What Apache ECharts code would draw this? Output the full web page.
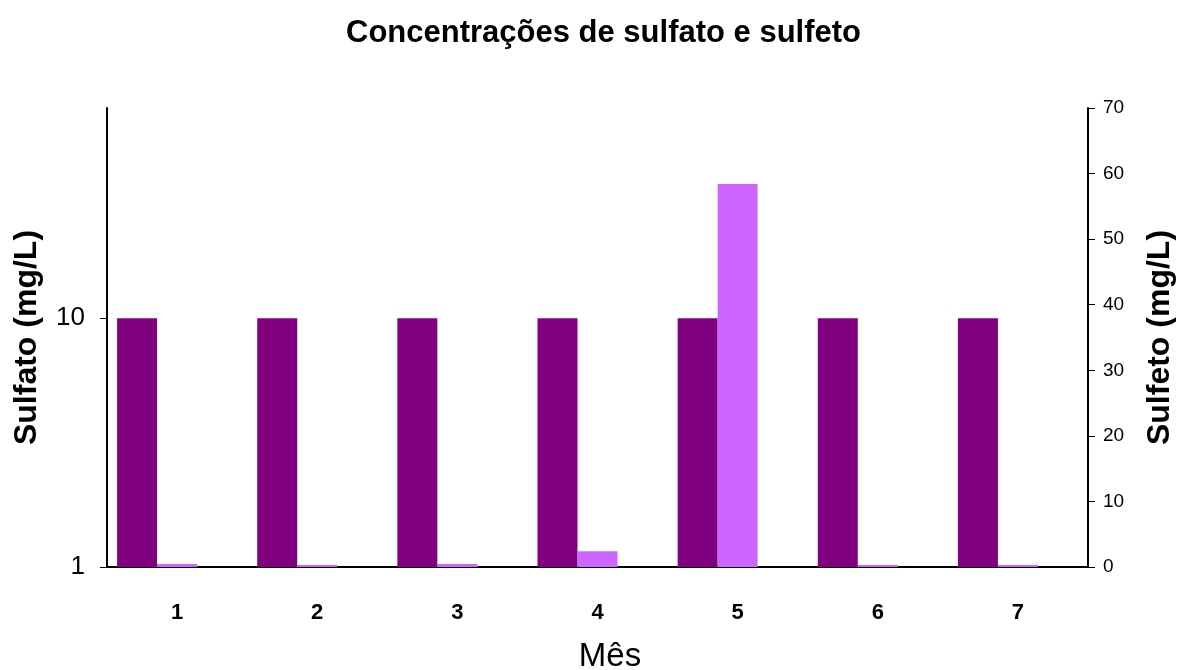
<!DOCTYPE html>
<html><head><meta charset="utf-8">
<script src="https://cdn.jsdelivr.net/npm/echarts@6/dist/echarts.min.js"></script>
<style>html,body{margin:0;padding:0;background:#fff}#c{width:1178px;height:670px}</style>
</head><body><div id="c"></div>
<script>
const months = ['1','2','3','4','5','6','7'];
const sulfato = [10,10,10,10,10,10,10];
const sulfeto = [0.46,0.3,0.46,2.4,58.4,0.3,0.3];
const emptySeries = [null,null,null,null,null,null,null];
const rightTicks = [0,10,20,30,40,50,60,70];
const F = '"Liberation Sans", Arial, sans-serif';
const chart = echarts.init(document.getElementById('c'));
chart.setOption({
  animation:false,
  backgroundColor:'#fff',
  title:{text:'Concentrações de sulfato e sulfeto',left:341,top:13,
    textStyle:{fontFamily:F,fontSize:31,fontWeight:'bold',color:'#000'}},
  grid:{left:107,right:90,top:108,bottom:103,containLabel:false,outerBoundsMode:'none'},
  xAxis:{type:'category',data:months,name:'Mês',nameLocation:'middle',nameGap:73,
    nameTextStyle:{fontFamily:F,fontSize:33,color:'#000',padding:[0,0,0,25]},
    axisLine:{lineStyle:{color:'#000',width:2}},
    axisTick:{lineStyle:{color:'#000'},length:6},
    axisLabel:{fontFamily:F,fontSize:22,fontWeight:'bold',color:'#000',margin:35}},
  yAxis:[
    {type:'log',logBase:10,min:1,max:70,name:'Sulfato (mg/L)',nameLocation:'middle',nameGap:64,
     nameTextStyle:{fontFamily:F,fontSize:32,fontWeight:'bold',color:'#000'},
     axisLine:{show:true,lineStyle:{color:'#000',width:2}},
     axisTick:{show:true,lineStyle:{color:'#000'},length:7},
     splitLine:{show:false},
     axisLabel:{fontFamily:F,fontSize:26,color:'#000',margin:22,showMaxLabel:false}},
    {type:'value',min:rightTicks[0],max:rightTicks[rightTicks.length-1],interval:10,position:'right',
     name:'Sulfeto (mg/L)',nameLocation:'middle',nameGap:56,nameRotate:90,
     nameTextStyle:{fontFamily:F,fontSize:32,fontWeight:'bold',color:'#000'},
     axisLine:{show:true,lineStyle:{color:'#000',width:2}},
     axisTick:{show:true,lineStyle:{color:'#000'},length:7},
     splitLine:{show:false},
     axisLabel:{fontFamily:F,fontSize:19,color:'#000',margin:15}}
  ],
  series:[
    {name:'Sulfato',type:'bar',yAxisIndex:0,data:sulfato,barWidth:40,barGap:'0%',
     itemStyle:{color:'#800080'}},
    {name:'Sulfeto',type:'bar',yAxisIndex:1,data:sulfeto,barWidth:40,barGap:'0%',
     itemStyle:{color:'#CC66FF'}},
    {name:'vazio',type:'bar',yAxisIndex:1,data:emptySeries,barWidth:40,barGap:'0%'}
  ]
});
</script></body></html>
